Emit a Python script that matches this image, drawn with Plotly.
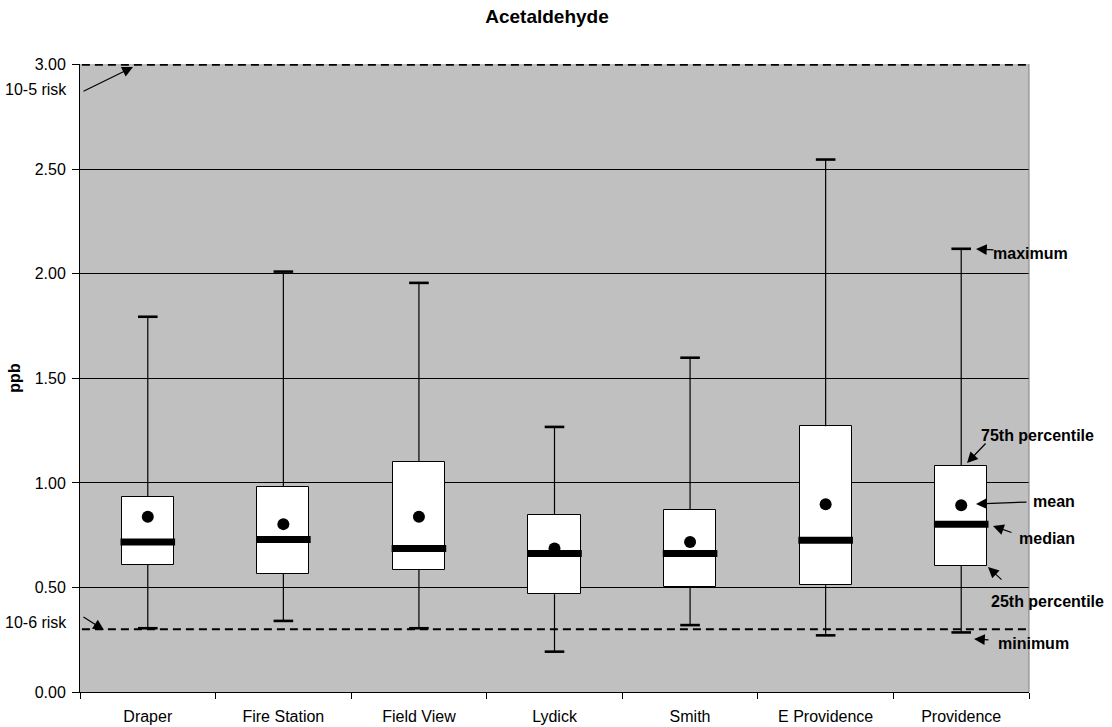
import plotly.graph_objects as go

categories = ["Draper", "Fire Station", "Field View", "Lydick", "Smith", "E Providence", "Providence"]
minimum = [0.305, 0.34, 0.305, 0.193, 0.32, 0.271, 0.285]
q1 = [0.607, 0.564, 0.583, 0.468, 0.503, 0.511, 0.603]
median = [0.718, 0.730, 0.687, 0.663, 0.663, 0.726, 0.803]
mean = [0.838, 0.803, 0.838, 0.687, 0.718, 0.898, 0.893]
q3 = [0.933, 0.981, 1.100, 0.847, 0.871, 1.271, 1.081]
maximum = [1.795, 2.011, 1.957, 1.268, 1.599, 2.547, 2.120]

risk_10_5 = 3.00
risk_10_6 = 0.30

y_ticks = [0.0, 0.5, 1.0, 1.5, 2.0, 2.5, 3.0]

FONT = "Arial, Liberation Sans, sans-serif"

fig = go.Figure()

# boxes (25th-75th percentile)
fig.add_trace(go.Bar(
    x=categories, base=q1, y=[b - a for a, b in zip(q1, q3)],
    width=0.385, marker=dict(color="white", line=dict(color="black", width=1)),
    hoverinfo="skip", showlegend=False))

# whiskers
wx, wy = [], []
for c, lo, a, b, hi in zip(categories, minimum, q1, q3, maximum):
    wx += [c, c, None, c, c, None]
    wy += [b, hi, None, lo, a, None]
fig.add_trace(go.Scatter(x=wx, y=wy, mode="lines", line=dict(color="black", width=1.2),
                         hoverinfo="skip", showlegend=False))

# caps
fig.add_trace(go.Scatter(
    x=categories + categories, y=maximum + minimum, mode="markers",
    marker=dict(symbol="line-ew", size=14, color="black", line=dict(color="black", width=2.6)),
    hoverinfo="skip", showlegend=False))

# mean
fig.add_trace(go.Scatter(
    x=categories, y=mean, mode="markers",
    marker=dict(symbol="circle", size=12, color="black"),
    hoverinfo="skip", showlegend=False))

# median
fig.add_trace(go.Scatter(
    x=categories, y=median, mode="markers",
    marker=dict(symbol="line-ew", size=39, color="black", line=dict(color="black", width=7)),
    hoverinfo="skip", showlegend=False))

# risk lines
for r in (risk_10_5, risk_10_6):
    fig.add_shape(type="line", xref="paper", yref="y", x0=0.002, x1=1, y0=r, y1=r,
                  line=dict(color="black", width=2, dash="8px,5px"))

# right border of plot area
fig.add_shape(type="line", xref="paper", yref="paper", x0=1, x1=1, y0=0, y1=1,
              line=dict(color="#808080", width=1))

# plot-area geometry (pixels) for annotation placement
L, R, T, B = 80, 1029, 64, 692
W, H = R - L, B - T


def px(x):
    return (x - L) / W


def py(y):
    return (B - y) / H


def text_ann(text, x, y, anchor="left", bold=True):
    fig.add_annotation(text=f"<b>{text}</b>" if bold else text, xref="paper", yref="paper",
                       x=px(x), y=py(y), xanchor=anchor, yanchor="middle", showarrow=False,
                       font=dict(family=FONT, size=16, color="black"))


def arrow(tail, head):
    fig.add_annotation(text="", xref="paper", yref="paper", x=px(head[0]), y=py(head[1]),
                       ax=tail[0] - head[0], ay=tail[1] - head[1], axref="pixel", ayref="pixel",
                       showarrow=True, arrowhead=2, arrowsize=1.8, arrowwidth=1.2,
                       arrowcolor="black", standoff=0, startstandoff=0)


text_ann("10-5 risk", 69, 89, anchor="right", bold=False)
arrow((82, 92), (133, 67))
text_ann("10-6 risk", 69, 622, anchor="right", bold=False)
arrow((82, 616), (104, 630))

text_ann("maximum", 991, 253)
arrow((995, 250), (976, 249))
text_ann("75th percentile", 979, 435)
arrow((987, 442), (967, 463))
text_ann("mean", 1031, 501)
arrow((1028, 502), (976, 504))
text_ann("median", 1017, 538)
arrow((1013, 533), (993, 526))
text_ann("25th percentile", 989, 601)
arrow((1003, 581), (988, 567))
text_ann("minimum", 996, 643)
arrow((990, 640), (974, 639))

fig.update_layout(
    width=1112, height=727,
    margin=dict(l=L, r=1112 - R, t=T, b=727 - B, autoexpand=False),
    paper_bgcolor="white", plot_bgcolor="#C0C0C0",
    font=dict(family=FONT, size=16, color="black"),
    title=dict(text="<b>Acetaldehyde</b>", x=px(547), xref="paper", xanchor="center",
               y=1 - 16 / 727, yref="container", yanchor="middle",
               font=dict(family=FONT, size=19, color="black")),
    bargap=0, showlegend=False,
)

fig.update_xaxes(type="category", categoryorder="array", categoryarray=categories,
                 range=[-0.5, len(categories) - 0.5], automargin=False,
                 showline=True, linecolor="black", linewidth=1,
                 ticks="outside", tickson="boundaries", ticklen=6, tickcolor="black",
                 ticklabelstandoff=10,
                 showgrid=False, zeroline=False, tickfont=dict(size=16, color="black"))

fig.update_yaxes(range=[0, 3.004], tickvals=y_ticks, tickformat=".2f", automargin=False,
                 showline=True, linecolor="black", linewidth=1,
                 ticks="outside", ticklen=7, tickcolor="black", ticklabelstandoff=3,
                 showgrid=True, gridcolor="black", gridwidth=1, zeroline=False,
                 tickfont=dict(size=16, color="black"),
                 title=dict(text="<b>ppb</b>", standoff=10, font=dict(size=16, color="black")))

fig.write_html("out.html", config={"displayModeBar": False},
               post_script="document.body.style.margin='0px';document.body.style.overflow='hidden';")
